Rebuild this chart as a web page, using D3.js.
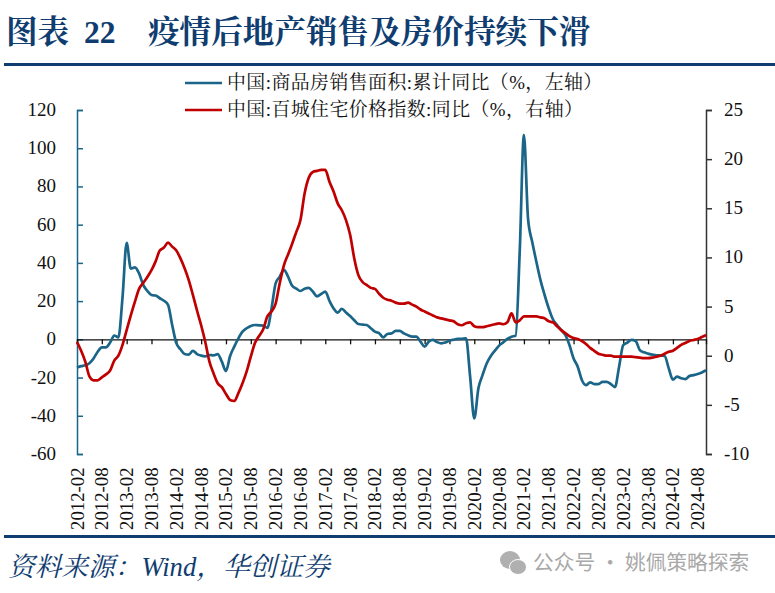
<!DOCTYPE html>
<html><head><meta charset="utf-8">
<script src="https://cdn.jsdelivr.net/npm/d3@7"></script>
<style>
html,body{margin:0;padding:0;background:#fff}
svg{display:block}
text{font-family:"Liberation Serif","Noto Serif CJK SC","Noto Sans CJK SC",serif}
</style></head><body>
<svg id="c" width="775" height="593"></svg>
<script>
const titleParts = ["图表","22","疫情后地产销售及房价持续下滑"];
const legendLabels = ["中国:商品房销售面积:累计同比（%，左轴）","中国:百城住宅价格指数:同比（%，右轴）"];
const sourceText = "资料来源：Wind，华创证券";
const watermarkText = "公众号 · 姚佩策略探索";
const tickLabels = ["2012-02","2012-08","2013-02","2013-08","2014-02","2014-08","2015-02","2015-08","2016-02","2016-08","2017-02","2017-08","2018-02","2018-08","2019-02","2019-08","2020-02","2020-08","2021-02","2021-08","2022-02","2022-08","2023-02","2023-08","2024-02","2024-08"];
const leftTicks = [120,100,80,60,40,20,0,-20,-40,-60];
const rightTicks = [25,20,15,10,5,0,-5,-10];
// monthly, 2012-02 onward
const salesArea = [-14.7,-14,-13.6,-12.5,-10,-6.5,-4.2,-4.2,-1.7,2,1,22,50.5,37,37.7,34.5,28.5,25.3,23.2,22.9,21.5,20.2,18,7.5,-2,-5.2,-7.7,-8,-6,-7.7,-8.5,-8.9,-8.2,-8.4,-7.7,-11.7,-16.6,-8.7,-3.8,0.5,4,5.8,7,7.5,7.3,7.2,6,16,29.3,32.8,36.3,32.8,28,26.5,25.3,26.5,26.9,25,22.5,23.7,25,20.2,16.2,14,16,14,12.2,10,8,7.7,7.5,5.8,4,3.3,1,2.8,3.1,4.4,4.4,3.1,2.1,1.4,1.4,-1.2,-3.8,-1.2,-0.3,-1.4,-2.1,-1.7,-0.7,-0.2,0.2,0.3,0.5,-19.5,-41.4,-25.6,-18.7,-12.6,-8.7,-5.9,-3.3,-1.6,0.2,1.4,1.9,46.8,107,63,51,40.7,31,23.2,16.2,10.5,7.5,4.9,2.3,-3,-10,-14.3,-21.3,-24,-22.5,-23.4,-23.4,-22.3,-22.3,-23.4,-25,-14.3,-3,-1.7,-0.3,-0.9,-5.6,-6.8,-7.5,-8,-8.4,-8.4,-8.7,-15.2,-21.1,-19.5,-20.4,-20.8,-19.2,-18.7,-18.1,-17.3,-16.2];
const priceIndex = [1.4,0.5,-0.6,-2.1,-2.5,-2.5,-2.2,-1.9,-1.5,-0.5,0,1.1,2.6,4.1,5.5,6.8,7.4,8,8.7,9.6,10.7,11,11.5,11.1,10.7,9.9,8.9,7.7,6.2,4.6,3.1,1.4,-0.6,-1.8,-2.8,-3.2,-3.9,-4.5,-4.6,-3.8,-2.8,-1.6,-0.1,1.3,2,2.7,4,4.5,5.3,7.4,9.2,10.3,11.4,12.6,13.8,16.5,18.1,18.7,18.8,18.9,18.9,17.7,16.7,15.5,14.8,13.8,12.3,9.9,8.2,7.5,7.2,6.9,6.8,6.3,5.9,5.7,5.6,5.4,5.3,5.3,5.4,5.2,5,4.7,4.5,4.3,4.1,3.9,3.8,3.7,3.6,3.5,3.2,3.1,3.3,3.4,3,2.9,2.9,3,3.1,3.2,3.3,3.2,3.4,4.3,3.4,3.6,4,4,4,4,3.9,3.8,3.5,3.4,3,2.6,2.3,2,1.8,1.7,1.5,1.2,0.8,0.5,0.2,0.1,0,0,-0.1,-0.1,-0.1,-0.1,-0.1,-0.15,-0.2,-0.25,-0.25,-0.2,-0.1,0,0.2,0.4,0.5,0.8,1.1,1.3,1.5,1.6,1.7,1.9,2.1];

const navy="#0f3d70", teal="#1b6688", red="#c00000", ink="#111";
const svg=d3.select("#c");
const x=d3.scaleLinear().domain([0,salesArea.length-1]).range([77,706]);
const yL=d3.scaleLinear().domain([-60,120]).range([454,110]);
const yR=d3.scaleLinear().domain([-10,25]).range([454,110]);
const tickIdx=tickLabels.map((_,i)=>i*6);

// Title
const t=svg.append("text").attr("y",43).attr("fill",navy).attr("font-size",31.6).attr("font-weight",700);
t.append("tspan").attr("x",6).text(titleParts[0]);
t.append("tspan").attr("x",84).text(titleParts[1]);
t.append("tspan").attr("x",148).text(titleParts[2]);
// Rules
svg.append("rect").attr("x",4).attr("y",63).attr("width",771).attr("height",3).attr("fill",navy);
svg.append("rect").attr("x",4).attr("y",535).attr("width",771).attr("height",3).attr("fill",navy);

// Left axis
const gL=svg.append("g").attr("transform","translate(77,0)")
  .call(d3.axisRight(yL).tickValues(leftTicks).tickSize(6).tickFormat(()=>""));
gL.selectAll("path,line").attr("stroke",teal).attr("stroke-width",1.5);
svg.append("g").selectAll("text").data(leftTicks).join("text")
  .attr("x",56).attr("y",d=>yL(d)+6).attr("text-anchor","end").attr("font-size",19).attr("fill",ink).text(d=>d);
// Right axis
const gR=svg.append("g").attr("transform","translate(706,0)")
  .call(d3.axisRight(yR).tickValues(rightTicks).tickSize(6).tickFormat(()=>""));
gR.selectAll("path,line").attr("stroke","#333").attr("stroke-width",1.5);
svg.append("g").selectAll("text").data(rightTicks).join("text")
  .attr("x",724).attr("y",d=>yR(d)+6).attr("font-size",19).attr("fill",ink).text(d=>d);
// X axis at zero
const gX=svg.append("g").attr("transform",`translate(0,${yL(0)})`)
  .call(d3.axisBottom(x).tickValues(tickIdx).tickSize(5).tickFormat(()=>""));
gX.selectAll("path,line").attr("stroke","#111").attr("stroke-width",1.3);
// Rotated tick labels
svg.append("g").attr("transform","translate(0,530)")
  .call(d3.axisBottom(x).tickValues(tickIdx).tickSize(0).tickFormat((d,i)=>tickLabels[i]))
  .call(g=>g.select(".domain").remove())
  .selectAll("text").attr("font-family",null).attr("font-size",18.8).attr("fill",ink)
  .attr("text-anchor","start").attr("dy",null).attr("y",null)
  .attr("transform","rotate(-90)").attr("x",0).attr("y",6);

// Lines
const line=(y)=>d3.line().x((d,i)=>x(i)).y(d=>y(d)).curve(d3.curveMonotoneX);
svg.append("path").datum(salesArea).attr("fill","none").attr("stroke",teal).attr("stroke-width",2.7).attr("stroke-linejoin","round").attr("d",line(yL));
svg.append("path").datum(priceIndex).attr("fill","none").attr("stroke",red).attr("stroke-width",2.7).attr("stroke-linejoin","round").attr("d",line(yR));

// Legend
[[83,teal],[110,red]].forEach(([ly,c],i)=>{
  svg.append("line").attr("x1",185).attr("x2",222).attr("y1",ly).attr("y2",ly).attr("stroke",c).attr("stroke-width",2.7);
  svg.append("text").attr("x",227).attr("y",ly+6).attr("font-size",18.9).attr("letter-spacing",0.45).attr("fill",ink).text(legendLabels[i]);
});

// Source
svg.append("text").attr("x",8).attr("y",576).attr("font-size",26.7).attr("font-style","italic").attr("fill",navy).text(sourceText);
// Watermark
const wm=svg.append("g").attr("fill","#b0b0b0");
wm.append("ellipse").attr("cx",510).attr("cy",560).attr("rx",10).attr("ry",9);
wm.append("ellipse").attr("cx",518).attr("cy",567).attr("rx",8.5).attr("ry",7.5).attr("stroke","#fff").attr("stroke-width",1);
svg.append("text").attr("x",533).attr("y",570).attr("font-size",20.7).attr("fill","#a8a8a8")
  .style("font-family",'"Noto Sans CJK SC"').text(watermarkText);
</script></body></html>
